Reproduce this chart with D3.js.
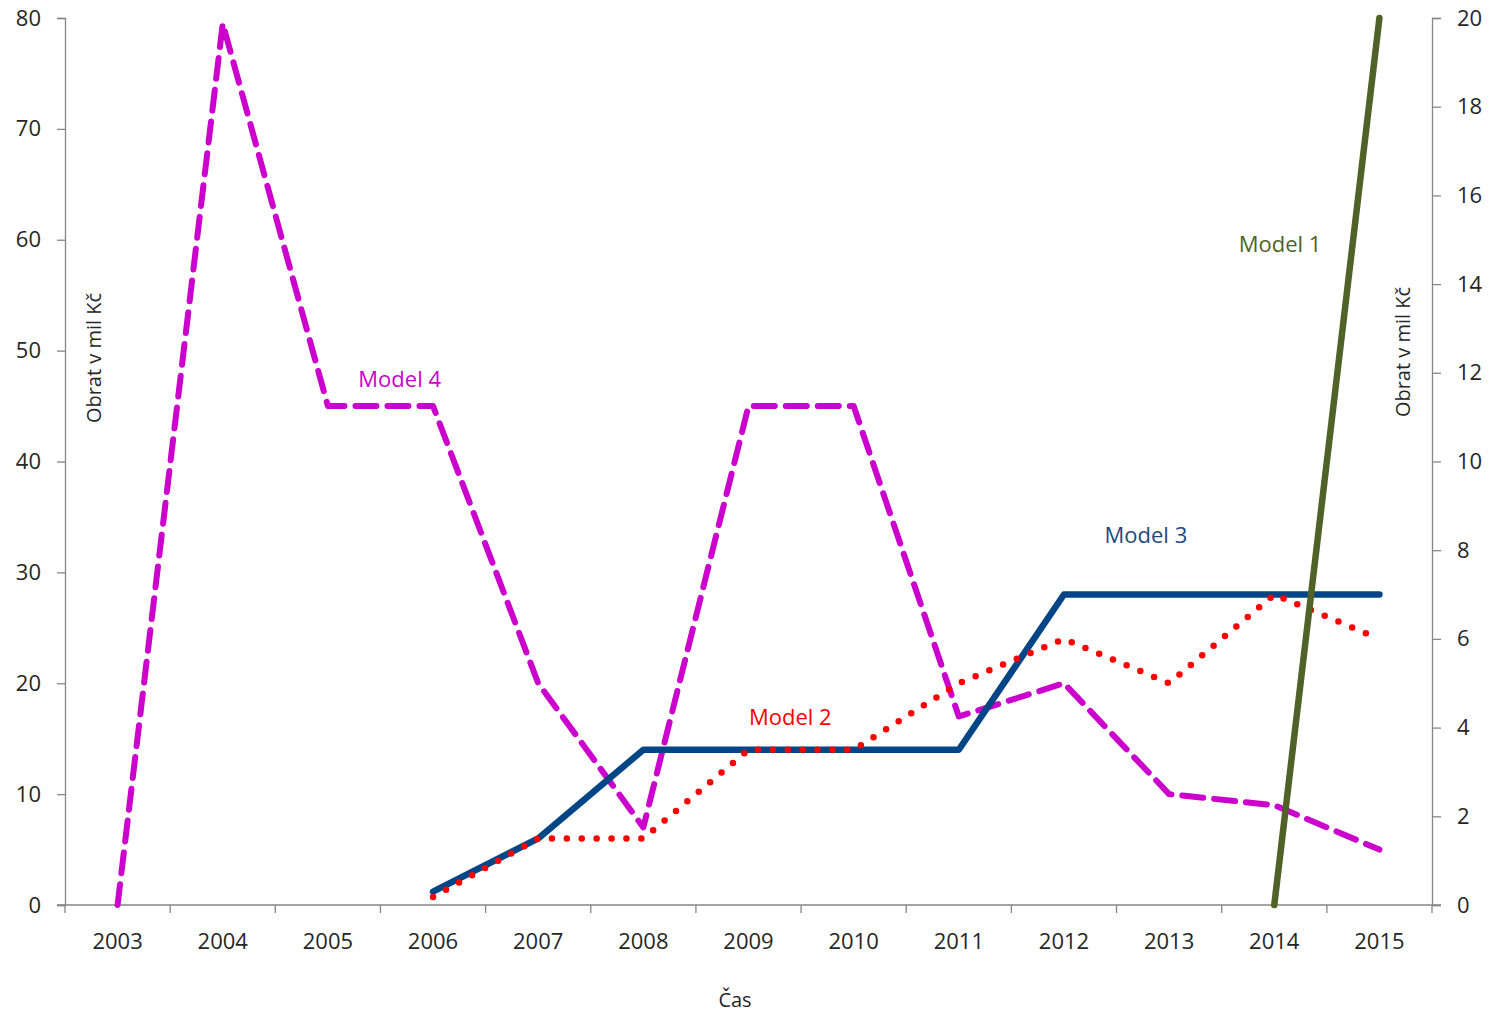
<!DOCTYPE html>
<html>
<head>
<meta charset="utf-8">
<script src="https://cdn.jsdelivr.net/npm/d3@7"></script>
<style>
  body { margin: 0; background: #fff; }
  svg text { font-family: "Open Sans", sans-serif; }
</style>
</head>
<body>
<div id="chart"></div>
<script>
var years = ["2003", "2004", "2005", "2006", "2007", "2008", "2009", "2010", "2011", "2012", "2013", "2014", "2015"];
var leftTicks = [0, 10, 20, 30, 40, 50, 60, 70, 80];
var rightTicks = [0, 2, 4, 6, 8, 10, 12, 14, 16, 18, 20];

// left axis
var model4 = [0, 79.5, 45, 45, 20, 7, 45, 45, 17, 20, 10, 9, 5];
// right axis (null = no value)
var model1 = [null, null, null, null, null, null, null, null, null, null, null, 0, 20];
var model2 = [null, null, null, 0.18, 1.5, 1.5, 3.5, 3.5, 5, 6, 5, 7, 6];
var model3 = [null, null, null, 0.3, 1.5, 3.5, 3.5, 3.5, 3.5, 7, 7, 7, 7];

var width = 1491,
  height = 1014;
var margin = { top: 18, right: 59, bottom: 109, left: 65 };
var axisColor = "#868686",
  textColor = "#262626";

var svg = d3
  .select("#chart")
  .append("svg")
  .attr("width", width)
  .attr("height", height);

var x = d3
  .scaleBand()
  .domain(years)
  .range([margin.left, width - margin.right]);
var yLeft = d3
  .scaleLinear()
  .domain([0, 80])
  .range([height - margin.bottom, margin.top]);
var yRight = d3
  .scaleLinear()
  .domain([0, 20])
  .range([height - margin.bottom, margin.top]);

function center(year) {
  return x(year) + x.bandwidth() / 2;
}
function cx(d, i) {
  return center(years[i]);
}

// x axis with ticks between categories
var xAxisG = svg
  .append("g")
  .attr("transform", "translate(0," + (height - margin.bottom) + ")");
xAxisG
  .append("line")
  .attr("x1", margin.left - 8)
  .attr("x2", width - margin.right + 9)
  .attr("stroke", axisColor)
  .attr("stroke-width", 1.3);
xAxisG
  .selectAll("line.tick")
  .data(d3.range(years.length + 1))
  .enter()
  .append("line")
  .attr("class", "tick")
  .attr("x1", function (i) {
    return margin.left + i * x.step();
  })
  .attr("x2", function (i) {
    return margin.left + i * x.step();
  })
  .attr("y1", 0)
  .attr("y2", 8)
  .attr("stroke", axisColor)
  .attr("stroke-width", 1.3);
xAxisG
  .selectAll("text")
  .data(years)
  .enter()
  .append("text")
  .attr("x", center)
  .attr("y", 44)
  .attr("text-anchor", "middle")
  .attr("font-size", 22)
  .attr("fill", textColor)
  .text(function (d) {
    return d;
  });

function styleAxis(g) {
  g.select(".domain").attr("stroke", axisColor).attr("stroke-width", 1.3);
  g.selectAll(".tick line").attr("stroke", axisColor).attr("stroke-width", 1.3);
  g.selectAll(".tick text")
    .attr("font-size", 22)
    .attr("fill", textColor)
    .attr("font-family", "Open Sans, sans-serif");
}

// left y axis
var leftAxis = d3.axisLeft(yLeft).tickValues(leftTicks).tickSize(8).tickPadding(16);
svg
  .append("g")
  .attr("transform", "translate(" + margin.left + ",0)")
  .call(leftAxis)
  .call(styleAxis);

// right y axis
var rightAxis = d3.axisRight(yRight).tickValues(rightTicks).tickSize(9).tickPadding(16);
svg
  .append("g")
  .attr("transform", "translate(" + (width - margin.right) + ",0)")
  .call(rightAxis)
  .call(styleAxis);

// axis titles
svg
  .append("text")
  .attr("transform", "translate(101,358) rotate(-90)")
  .attr("text-anchor", "middle")
  .attr("font-size", 20)
  .attr("fill", textColor)
  .text("Obrat v mil Kč");
svg
  .append("text")
  .attr("transform", "translate(1410,352) rotate(-90)")
  .attr("text-anchor", "middle")
  .attr("font-size", 20)
  .attr("fill", textColor)
  .text("Obrat v mil Kč");
svg
  .append("text")
  .attr("x", 735)
  .attr("y", 1007)
  .attr("text-anchor", "middle")
  .attr("font-size", 20)
  .attr("fill", textColor)
  .text("Čas");

function drawLine(values, yScale, color, strokeWidth, dash) {
  var line = d3
    .line()
    .defined(function (d) {
      return d !== null;
    })
    .x(cx)
    .y(function (d) {
      return yScale(d);
    });
  var path = svg
    .append("path")
    .datum(values)
    .attr("fill", "none")
    .attr("stroke", color)
    .attr("stroke-width", strokeWidth)
    .attr("stroke-linejoin", "round")
    .attr("stroke-linecap", "round")
    .attr("d", line);
  if (dash) path.attr("stroke-dasharray", dash);
  return path;
}

drawLine(model4, yLeft, "#CC00CC", 6, "21,11");
drawLine(model3, yRight, "#004586", 6.5, null);
drawLine(model2, yRight, "#FF0000", 6.5, "0,14.9");
drawLine(model1, yRight, "#4F6228", 6.5, null);

// series labels
var labels = [
  { text: "Model 4", color: "#CC00CC", x: x("2005") + 83, y: yLeft(45) - 19 },
  { text: "Model 2", color: "#FF0000", x: x("2009") + 53, y: yRight(3.5) - 25 },
  { text: "Model 3", color: "#1F497D", x: x("2013") - 12, y: yRight(7) - 52 },
  { text: "Model 1", color: "#4F6228", x: x("2014") + 17, y: yRight(15) + 12 }
];
svg
  .selectAll("text.series-label")
  .data(labels)
  .enter()
  .append("text")
  .attr("class", "series-label")
  .attr("x", function (d) {
    return d.x;
  })
  .attr("y", function (d) {
    return d.y;
  })
  .attr("font-size", 22)
  .attr("fill", function (d) {
    return d.color;
  })
  .text(function (d) {
    return d.text;
  });
</script>
</body>
</html>
